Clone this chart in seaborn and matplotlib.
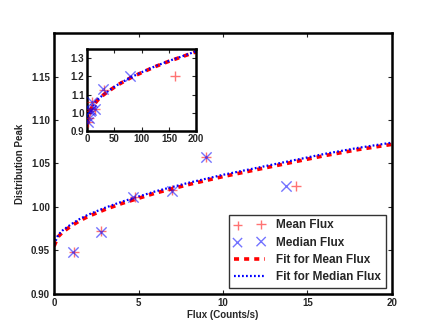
import matplotlib
matplotlib.use("Agg")
from matplotlib import pyplot as plt
import seaborn as sns

sns.set_style("ticks")
plt.rcParams['font.family'] = ['Liberation Sans', 'DejaVu Sans']
plt.rcParams['font.weight'] = 'bold'
plt.rcParams['axes.labelweight'] = 'bold'

# measured points
mean_x = [1.2, 2.8, 4.8, 7.0, 9.0, 14.3, 30.0, 161.0]
mean_y = [0.948, 0.972, 1.011, 1.020, 1.057, 1.024, 1.128, 1.200]
median_x = [1.1, 2.8, 4.7, 7.0, 9.0, 13.7, 29.0, 79.0]
median_y = [0.948, 0.971, 1.012, 1.018, 1.057, 1.024, 1.130, 1.200]

# fitted curves
fit_x = [0, 0.25, 0.5, 1, 1.5, 2, 3, 4, 5, 6, 8, 10, 12, 14, 16, 18, 20,
         25, 30, 40, 50, 60, 80, 100, 125, 150, 175, 200]
fit_mean = [0.955, 0.966, 0.971, 0.978, 0.984, 0.989, 0.997, 1.004, 1.010, 1.016,
            1.026, 1.035, 1.043, 1.051, 1.059, 1.066, 1.072, 1.086, 1.099, 1.121,
            1.141, 1.160, 1.193, 1.221, 1.254, 1.283, 1.309, 1.335]
fit_median = [0.957, 0.968, 0.973, 0.980, 0.986, 0.991, 0.999, 1.006, 1.012, 1.018,
              1.028, 1.037, 1.045, 1.053, 1.061, 1.068, 1.074, 1.088, 1.101, 1.123,
              1.143, 1.162, 1.195, 1.223, 1.256, 1.285, 1.311, 1.338]

fig = plt.figure(figsize=(4.36, 3.27), dpi=100)
ax = fig.add_axes([0.124, 0.101, 0.775, 0.798])
ins = fig.add_axes([0.2, 0.599, 0.25, 0.251])


def draw(a, legend):
    sns.scatterplot(x=mean_x, y=mean_y, marker='+', s=55, color='red', alpha=0.55,
                    linewidth=1.0, ax=a, label='Mean Flux' if legend else None, zorder=3)
    sns.scatterplot(x=median_x, y=median_y, marker='x', s=55, color='blue', alpha=0.55,
                    linewidth=1.0, ax=a, label='Median Flux' if legend else None, zorder=3)
    sns.lineplot(x=fit_x, y=fit_mean, color='red', linestyle=(0, (1.4, 1.4)), linewidth=2.6,
                 ax=a, label='Fit for Mean Flux' if legend else None, zorder=2)
    sns.lineplot(x=fit_x, y=fit_median, color='blue', linestyle=(0, (0.8, 1.0)), linewidth=1.6,
                 ax=a, label='Fit for Median Flux' if legend else None, zorder=2)
    for s in a.spines.values():
        s.set_visible(True)
        s.set_linewidth(1.8)
        s.set_color('black')
    a.tick_params(direction='in', top=True, right=True, labelsize=7, length=3,
                  width=0.8, pad=3)


draw(ax, True)
draw(ins, False)

ax.set_xlim(0, 20)
ax.set_ylim(0.90, 1.20)
ax.set_xticks([0, 5, 10, 15, 20])
ax.set_yticks([0.90, 0.95, 1.00, 1.05, 1.10, 1.15])
ax.set_yticklabels(['0.90', '0.95', '1.00', '1.05', '1.10', '1.15'])
ax.set_xlabel('Flux (Counts/s)', fontsize=7, labelpad=1)
ax.set_ylabel('Distribution Peak', fontsize=7, labelpad=4)

ins.set_xlim(0, 200)
ins.set_ylim(0.9, 1.35)
ins.set_xticks([0, 50, 100, 150, 200])
ins.set_yticks([0.9, 1.0, 1.1, 1.2, 1.3])
ins.tick_params(pad=2)

leg = ax.legend(loc='lower right', fontsize=8.5, scatterpoints=2, markerscale=0.9,
                fancybox=False, frameon=True, borderaxespad=0.5, borderpad=0.4,
                handlelength=2.6, handletextpad=1.0, labelspacing=0.45)
leg.get_frame().set_edgecolor('black')
leg.get_frame().set_linewidth(1.0)
for t in leg.get_texts():
    t.set_fontweight('bold')

fig.savefig('out.png', dpi=100)
